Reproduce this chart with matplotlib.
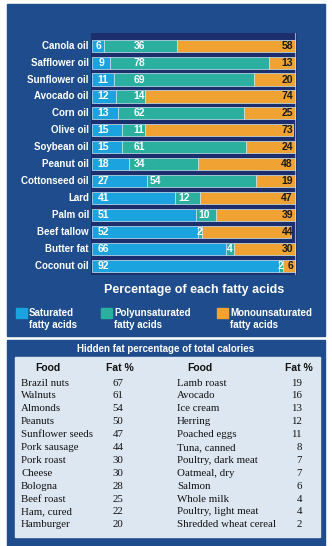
import numpy as np
import matplotlib.pyplot as plt
from matplotlib.patches import Rectangle

# fatty acid composition (%)
oils = ["Canola oil", "Safflower oil", "Sunflower oil", "Avocado oil", "Corn oil",
        "Olive oil", "Soybean oil", "Peanut oil", "Cottonseed oil", "Lard",
        "Palm oil", "Beef tallow", "Butter fat", "Coconut oil"]
saturated = [6, 9, 11, 12, 13, 15, 15, 18, 27, 41, 51, 52, 66, 92]
poly = [36, 78, 69, 14, 62, 11, 61, 34, 54, 12, 10, 2, 4, 2]
mono = [58, 13, 20, 74, 25, 73, 24, 48, 19, 47, 39, 44, 30, 6]

# hidden fat table
foods_left = ["Brazil nuts", "Walnuts", "Almonds", "Peanuts", "Sunflower seeds",
              "Pork sausage", "Pork roast", "Cheese", "Bologna", "Beef roast",
              "Ham, cured", "Hamburger"]
fat_left = [67, 61, 54, 50, 47, 44, 30, 30, 28, 25, 22, 20]
foods_right = ["Lamb roast", "Avocado", "Ice cream", "Herring", "Poached eggs",
               "Tuna, canned", "Poultry, dark meat", "Oatmeal, dry", "Salmon",
               "Whole milk", "Poultry, light meat", "Shredded wheat cereal"]
fat_right = [19, 16, 13, 12, 11, 8, 7, 7, 6, 4, 4, 2]

W, H = 332, 546
panel = "#1f4c8c"
dark = "#1c2e6c"
c_sat = "#1aa3df"
c_poly = "#2bb09f"
c_mono = "#f0a232"
sans = "Liberation Sans"
serif = "Liberation Serif"

fig = plt.figure(figsize=(W / 100, H / 100), dpi=100)
fig.patch.set_facecolor("white")


def px(x, y):
    # pixel coords (top-left origin) -> figure fraction
    return x / W, 1 - y / H


def box(x0, y0, x1, y1, color, z=0):
    fig.patches.append(Rectangle((x0 / W, 1 - y1 / H), (x1 - x0) / W, (y1 - y0) / H,
                                 transform=fig.transFigure, color=color, zorder=z))


box(7, 4, 325, 336, panel)
box(7, 340, 325, 546, panel)
box(15, 357, 320, 537, "#dde7f1")

# bar chart
left, right = 91, 297
top, bottom = 33, 275
ax = fig.add_axes([left / W, 1 - bottom / H, (right - left) / W, (bottom - top) / H])
ax.set_zorder(5)
ax.set_facecolor(dark)
y = np.arange(len(oils))
sat = np.array(saturated)
pol = np.array(poly)
mon = np.array(mono)
ax.barh(y, sat, height=0.72, color=c_sat, edgecolor="#cfe8f5", linewidth=0.5)
ax.barh(y, pol, left=sat, height=0.72, color=c_poly, edgecolor="#cfe8f5", linewidth=0.5)
ax.barh(y, mon, left=sat + pol, height=0.72, color=c_mono, edgecolor="#cfe8f5", linewidth=0.5)
ax.axvline(100, color="#8fa6cc", lw=0.8, zorder=0)
ax.set_xlim(-0.5, 101)
ax.set_ylim(13.55, -0.75)
ax.set_xticks([])
ax.set_yticks([])
for s in ax.spines.values():
    s.set_visible(False)

for i in range(len(oils)):
    if sat[i] <= 11:
        ax.text(sat[i] / 2, i, str(sat[i]), color="white", fontsize=7.5, fontweight="bold",
                family=sans, va="center", ha="center")
    else:
        ax.text(2.8, i, str(sat[i]), color="white", fontsize=7.5, fontweight="bold",
                family=sans, va="center", ha="left")
    if pol[i] < 5:
        ax.text(sat[i] + pol[i] / 2, i, str(pol[i]), color="white", fontsize=7.5,
                fontweight="bold", family=sans, va="center", ha="center")
    else:
        ax.text(max(sat[i] + 1.5, 20.5), i, str(pol[i]), color="white", fontsize=7.5,
                fontweight="bold", family=sans, va="center", ha="left")
    ax.text(99, i, str(mon[i]), color="#1a1a1a", fontsize=7.5, fontweight="bold",
            family=sans, va="center", ha="right")
    ax.text(-1.5, i, oils[i], color="white", fontsize=7, fontweight="bold",
            family=sans, va="center", ha="right", clip_on=False)

fig.text(*px(194, 290), "Percentage of each fatty acids", color="white", fontsize=9,
         fontweight="bold", family=sans, ha="center", va="center")

legend = [(16, c_sat, "Saturated\nfatty acids"),
          (101, c_poly, "Polyunsaturated\nfatty acids"),
          (217, c_mono, "Monounsaturated\nfatty acids")]
for x0, col, lab in legend:
    box(x0, 308, x0 + 11, 318, col)
    fig.text(*px(x0 + 13, 319.5), lab, color="white", fontsize=7, fontweight="bold",
             family=sans, ha="left", va="center", linespacing=1.25)

# table
fig.text(*px(166, 349), "Hidden fat percentage of total calories", color="white",
         fontsize=7, fontweight="bold", family=sans, ha="center", va="center")
fig.text(*px(35, 368), "Food", fontsize=7.5, fontweight="bold", family=sans,
         ha="left", va="center", color="#111111")
fig.text(*px(120, 368), "Fat %", fontsize=7.5, fontweight="bold", family=sans,
         ha="center", va="center", color="#111111")
fig.text(*px(187, 368), "Food", fontsize=7.5, fontweight="bold", family=sans,
         ha="left", va="center", color="#111111")
fig.text(*px(313, 368), "Fat %", fontsize=7.5, fontweight="bold", family=sans,
         ha="right", va="center", color="#111111")

for i in range(len(foods_left)):
    yy = 383 + i * 12.9
    fig.text(*px(21, yy), foods_left[i], fontsize=7.8, family=serif, ha="left",
             va="center", color="#111111")
    fig.text(*px(118, yy), str(fat_left[i]), fontsize=7.8, family=serif, ha="center",
             va="center", color="#111111")
    fig.text(*px(177, yy), foods_right[i], fontsize=7.8, family=serif, ha="left",
             va="center", color="#111111")
    fig.text(*px(302, yy), str(fat_right[i]), fontsize=7.8, family=serif, ha="right",
             va="center", color="#111111")

fig.savefig("out.png", dpi=100, facecolor="white")
